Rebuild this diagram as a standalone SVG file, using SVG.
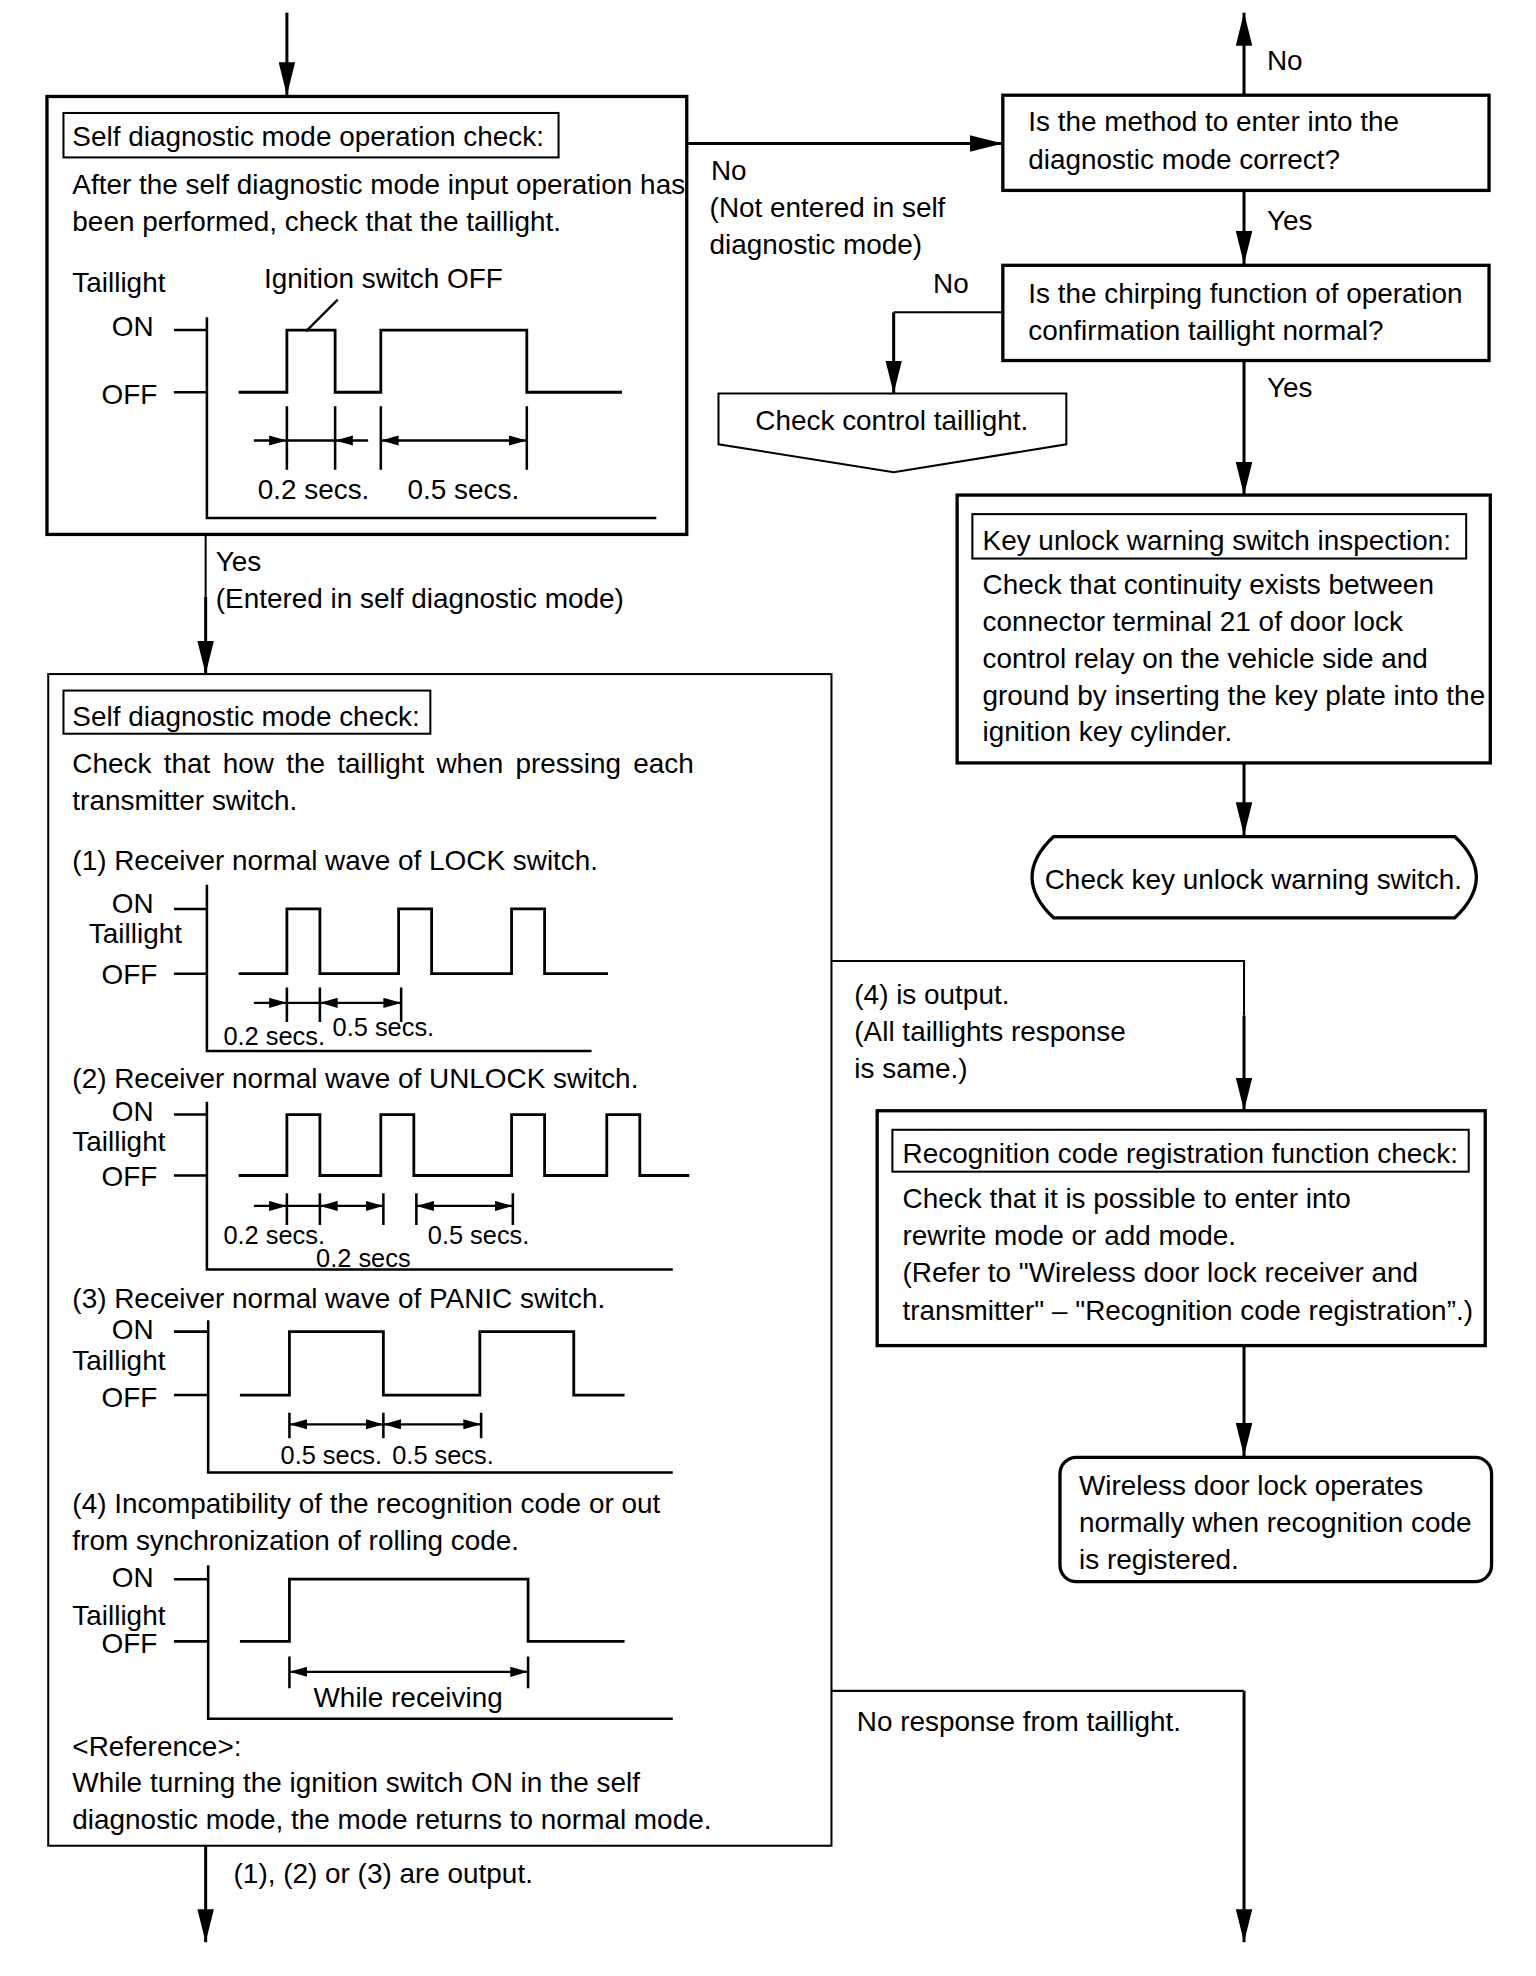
<svg xmlns="http://www.w3.org/2000/svg" width="1536" height="1976" viewBox="0 0 1536 1976">
<style>
.t{font-family:"Liberation Sans",Arial,Helvetica,sans-serif;font-size:22px;fill:#000}
.s{font-size:20px}
.box{fill:#fff;stroke:#000;stroke-width:2.6}
.tb{fill:none;stroke:#000;stroke-width:1.6}
.bx2{fill:#fff;stroke:#000;stroke-width:1.6}
.w{fill:none;stroke:#000;stroke-width:2.2}
.ax{fill:none;stroke:#000;stroke-width:2}
.c{fill:none;stroke:#000;stroke-width:2.4}
.cn{fill:none;stroke:#000;stroke-width:1.6}
.d{fill:none;stroke:#000;stroke-width:1.8}
</style>
<defs>
<marker id="ah" markerUnits="userSpaceOnUse" viewBox="0 0 26 13" refX="26" refY="6.5" markerWidth="26" markerHeight="13" orient="auto"><path d="M0,0 L26,6.5 L0,13 Z" fill="#000"/></marker>
<marker id="da" markerUnits="userSpaceOnUse" viewBox="0 0 14 8" refX="14" refY="4" markerWidth="14" markerHeight="8" orient="auto-start-reverse"><path d="M0,0 L14,4 L0,8 Z" fill="#000"/></marker>
</defs>
<rect width="1536" height="1976" fill="#fff"/>
<g transform="scale(1.26942)">

<g id="connectors">
<path class="c" d="M226,10 V75" marker-end="url(#ah)"/>
<path class="c" d="M541,113 H790" marker-end="url(#ah)"/>
<path class="c" d="M980,75 V10" marker-end="url(#ah)"/>
<path class="c" d="M980,150 V208" marker-end="url(#ah)"/>
<path class="cn" d="M790,246 H704"/>
<path class="c" d="M704,246 V310" marker-end="url(#ah)"/>
<path class="c" d="M980,284 V390" marker-end="url(#ah)"/>
<path class="c" d="M980,601 V658" marker-end="url(#ah)"/>
<path class="cn" d="M162,421 V470"/>
<path class="c" d="M162,470 V531" marker-end="url(#ah)"/>
<path class="cn" d="M655,757 H980 V800"/>
<path class="c" d="M980,800 V875" marker-end="url(#ah)"/>
<path class="c" d="M980,1060 V1147" marker-end="url(#ah)"/>
<path class="cn" d="M655,1332 H980"/>
<path class="c" d="M980,1332 V1530" marker-end="url(#ah)"/>
<path class="c" d="M162,1454 V1530" marker-end="url(#ah)"/>
<text class="t" x="560" y="142">No</text>
<text class="t" x="559" y="171">(Not entered in self</text>
<text class="t" x="559" y="200">diagnostic mode)</text>
<text class="t" x="998" y="55">No</text>
<text class="t" x="998" y="181">Yes</text>
<text class="t" x="735" y="231">No</text>
<text class="t" x="998" y="313">Yes</text>
<text class="t" x="170" y="450">Yes</text>
<text class="t" x="170" y="479">(Entered in self diagnostic mode)</text>
<text class="t" x="673" y="791">(4) is output.</text>
<text class="t" x="673" y="820">(All taillights response</text>
<text class="t" x="673" y="849">is same.)</text>
<text class="t" x="675" y="1364">No response from taillight.</text>
<text class="t" x="184" y="1483">(1), (2) or (3) are output.</text>
</g>

<g id="node-operation-check">
<rect class="box" x="37" y="76" width="504" height="345"/>
<rect class="tb" x="50" y="89" width="390" height="35"/>
<text class="t" x="57" y="115">Self diagnostic mode operation check:</text>
<text class="t" x="57" y="153">After the self diagnostic mode input operation has</text>
<text class="t" x="57" y="182">been performed, check that the taillight.</text>
<text class="t" x="57" y="230">Taillight</text>
<text class="t" x="208" y="227">Ignition switch OFF</text>
<text class="t" x="121" y="265" text-anchor="end">ON</text>
<text class="t" x="124" y="318" text-anchor="end">OFF</text>
<path class="ax" d="M163,250 V408 H517 M137,260 H163 M137,309 H163"/>
<path class="d" d="M266,236 L241,261"/>
<path class="w" d="M188,309 H226 V260 H264 V309 H300 V260 H415 V309 H490"/>
<path class="ax" d="M226,320 V370 M264,320 V370 M300,320 V370 M415,320 V370"/>
<path class="d" d="M226,347 H264"/>
<path class="d" d="M200,347 H226" marker-end="url(#da)"/>
<path class="d" d="M290,347 H264" marker-end="url(#da)"/>
<path class="d" d="M300,347 H415" marker-start="url(#da)" marker-end="url(#da)"/>
<text class="t" x="203" y="393">0.2 secs.</text>
<text class="t" x="321" y="393">0.5 secs.</text>
</g>

<g id="node-q1">
<rect class="box" x="790" y="75" width="383" height="75"/>
<text class="t" x="810" y="103">Is the method to enter into the</text>
<text class="t" x="810" y="133">diagnostic mode correct?</text>
</g>

<g id="node-q2">
<rect class="box" x="790" y="209" width="383" height="75"/>
<text class="t" x="810" y="239">Is the chirping function of operation</text>
<text class="t" x="810" y="268">confirmation taillight normal?</text>
</g>

<g id="node-check-control">
<path class="tb" d="M566,310 H840 V350 L704,372 L566,350 Z" fill="#fff"/>
<text class="t" x="595" y="339">Check control taillight.</text>
</g>

<g id="node-key-unlock-inspection">
<rect class="box" x="754" y="390" width="420" height="211"/>
<rect class="tb" x="766" y="405" width="389" height="35"/>
<text class="t" x="774" y="433">Key unlock warning switch inspection:</text>
<text class="t" x="774" y="468">Check that continuity exists between</text>
<text class="t" x="774" y="497">connector terminal 21 of door lock</text>
<text class="t" x="774" y="526">control relay on the vehicle side and</text>
<text class="t" x="774" y="555">ground by inserting the key plate into the</text>
<text class="t" x="774" y="584">ignition key cylinder.</text>
</g>

<g id="node-check-key-unlock">
<path class="box" d="M830,659 H1146 Q1180,691 1146,723 H830 Q796,691 830,659 Z"/>
<text class="t" x="823" y="700">Check key unlock warning switch.</text>
</g>

<g id="node-self-diag-check">
<rect class="bx2" x="38" y="531" width="617" height="923"/>
<rect class="tb" x="50" y="544" width="289" height="34"/>
<text class="t" x="57" y="572">Self diagnostic mode check:</text>
<text class="t" x="57" y="609" word-spacing="3.6">Check that how the taillight when pressing each</text>
<text class="t" x="57" y="638">transmitter switch.</text>

<text class="t" x="57" y="685">(1) Receiver normal wave of LOCK switch.</text>
<text class="t" x="121" y="719" text-anchor="end">ON</text>
<text class="t" x="70" y="743">Taillight</text>
<text class="t" x="124" y="775" text-anchor="end">OFF</text>
<path class="ax" d="M163,697 V828 H466 M137,716 H163 M137,767 H163"/>
<path class="w" d="M188,767 H226 V716 H252 V767 H314 V716 H340 V767 H403 V716 H429 V767 H479"/>
<path class="ax" d="M226,778 V805 M252,778 V805 M316,778 V805"/>
<path class="d" d="M226,790 H252"/>
<path class="d" d="M200,790 H226" marker-end="url(#da)"/>
<path class="d" d="M252,790 H316" marker-start="url(#da)" marker-end="url(#da)"/>
<text class="t s" x="176" y="823">0.2 secs.</text>
<text class="t s" x="262" y="816">0.5 secs.</text>

<text class="t" x="57" y="857">(2) Receiver normal wave of UNLOCK switch.</text>
<text class="t" x="121" y="883" text-anchor="end">ON</text>
<text class="t" x="57" y="907">Taillight</text>
<text class="t" x="124" y="934" text-anchor="end">OFF</text>
<path class="ax" d="M163,868 V1000 H530 M137,878 H163 M137,926 H163"/>
<path class="w" d="M188,926 H226 V878 H252 V926 H300 V878 H326 V926 H403 V878 H429 V926 H478 V878 H504 V926 H543"/>
<path class="ax" d="M226,940 V965 M252,940 V965 M302,940 V965 M328,940 V965 M404,940 V965"/>
<path class="d" d="M226,950 H252"/>
<path class="d" d="M200,950 H226" marker-end="url(#da)"/>
<path class="d" d="M252,950 H302" marker-start="url(#da)" marker-end="url(#da)"/>
<path class="d" d="M328,950 H404" marker-start="url(#da)" marker-end="url(#da)"/>
<text class="t s" x="176" y="980">0.2 secs.</text>
<text class="t s" x="249" y="998">0.2 secs</text>
<text class="t s" x="337" y="980">0.5 secs.</text>

<text class="t" x="57" y="1030">(3) Receiver normal wave of PANIC switch.</text>
<text class="t" x="121" y="1055" text-anchor="end">ON</text>
<text class="t" x="57" y="1079">Taillight</text>
<text class="t" x="124" y="1108" text-anchor="end">OFF</text>
<path class="ax" d="M164,1040 V1160 H530 M137,1049 H164 M137,1099 H164"/>
<path class="w" d="M189,1099 H228 V1049 H302 V1099 H378 V1049 H452 V1099 H492"/>
<path class="ax" d="M228,1113 V1133 M302,1113 V1133 M379,1113 V1133"/>
<path class="d" d="M228,1122 H302" marker-start="url(#da)" marker-end="url(#da)"/>
<path class="d" d="M302,1122 H379" marker-start="url(#da)" marker-end="url(#da)"/>
<text class="t s" x="221" y="1153">0.5 secs.</text>
<text class="t s" x="309" y="1153">0.5 secs.</text>

<text class="t" x="57" y="1192">(4) Incompatibility of the recognition code or out</text>
<text class="t" x="57" y="1221">from synchronization of rolling code.</text>
<text class="t" x="121" y="1250" text-anchor="end">ON</text>
<text class="t" x="57" y="1280">Taillight</text>
<text class="t" x="124" y="1302" text-anchor="end">OFF</text>
<path class="ax" d="M164,1233 V1354 H530 M137,1244 H164 M137,1293 H164"/>
<path class="w" d="M189,1293 H228 V1244 H416 V1293 H492"/>
<path class="ax" d="M228,1305 V1330 M416,1305 V1330"/>
<path class="d" d="M228,1317 H416" marker-start="url(#da)" marker-end="url(#da)"/>
<text class="t" x="247" y="1345">While receiving</text>

<text class="t" x="57" y="1383">&lt;Reference&gt;:</text>
<text class="t" x="57" y="1412">While turning the ignition switch ON in the self</text>
<text class="t" x="57" y="1441">diagnostic mode, the mode returns to normal mode.</text>
</g>

<g id="node-recognition-check">
<rect class="box" x="691" y="875" width="479" height="185"/>
<rect class="tb" x="703" y="890" width="454" height="33"/>
<text class="t" x="711" y="916">Recognition code registration function check:</text>
<text class="t" x="711" y="952">Check that it is possible to enter into</text>
<text class="t" x="711" y="981">rewrite mode or add mode.</text>
<text class="t" x="711" y="1010">(Refer to "Wireless door lock receiver and</text>
<text class="t" x="711" y="1040">transmitter" – "Recognition code registration”.)</text>
</g>

<g id="node-wireless-ok">
<rect class="box" x="835" y="1148" width="340" height="98" rx="13" ry="13"/>
<text class="t" x="850" y="1178">Wireless door lock operates</text>
<text class="t" x="850" y="1207">normally when recognition code</text>
<text class="t" x="850" y="1236">is registered.</text>
</g>

</g>
</svg>
